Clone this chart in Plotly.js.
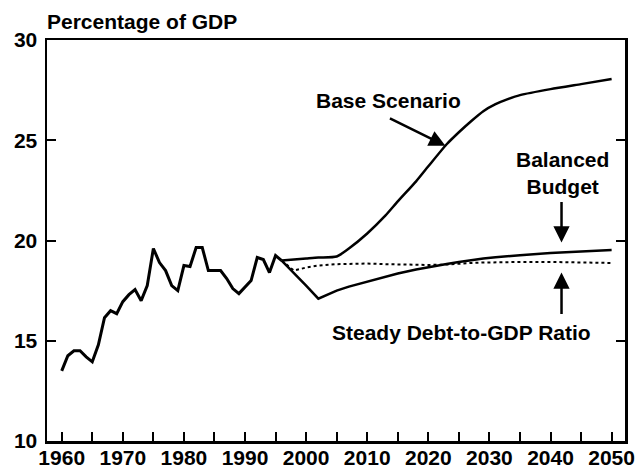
<!DOCTYPE html>
<html>
<head>
<meta charset="utf-8">
<script src="https://cdn.plot.ly/plotly-3.0.1.min.js"></script>
<style>html,body{margin:0;padding:0;background:#fff;}#chart{width:636px;height:468px;}</style>
</head>
<body>
<div id="chart"></div>
<script>
// Historical values, percentage of GDP
const histYears = [1960,1961,1962,1963,1964,1965,1966,1967,1968,1969,1970,1971,1972,1973,1974,1975,1976,1977,1978,1979,1980,1981,1982,1983,1984,1985,1986,1987,1988,1989,1990,1991,1992,1993,1994,1995,1996];
const histValues = [13.5,14.25,14.5,14.5,14.2,13.95,14.8,16.15,16.5,16.35,16.95,17.3,17.55,17.0,17.75,19.6,18.9,18.5,17.75,17.5,18.75,18.7,19.65,19.65,18.5,18.5,18.5,18.1,17.6,17.35,17.7,18.0,19.15,19.05,18.4,19.25,19.0];

// Projections
const projYears = [1996,1998,2000,2002,2005,2007,2010,2013,2015,2018,2020,2023,2025,2027,2029,2031,2033,2035,2040,2045,2050];
const baseScenario = [19.0,19.05,19.1,19.15,19.2,19.6,20.35,21.25,21.95,22.95,23.7,24.8,25.4,25.95,26.45,26.8,27.05,27.25,27.55,27.8,28.05];
const balancedBudget = [19.0,18.4,17.75,17.1,17.5,17.7,17.95,18.2,18.35,18.55,18.67,18.83,18.93,19.02,19.1,19.16,19.22,19.27,19.38,19.46,19.52];
const steadyDebt = [19.0,18.5,18.65,18.75,18.82,18.84,18.85,18.82,18.8,18.78,18.78,18.8,18.85,18.88,18.9,18.92,18.93,18.93,18.93,18.92,18.88];

const tickYears = [1960,1970,1980,1990,2000,2010,2020,2030,2040,2050];
const tickValuesY = [10,15,20,25,30];

const F = 'Arial, "Liberation Sans", Helvetica, sans-serif';

const traces = [
  {x: histYears, y: histValues, mode: 'lines', line: {color: '#000', width: 3}, hoverinfo: 'skip'},
  {x: projYears, y: baseScenario, mode: 'lines', line: {color: '#000', width: 2.5, shape: 'spline', smoothing: 0.6}, hoverinfo: 'skip'},
  {x: projYears, y: balancedBudget, mode: 'lines', line: {color: '#000', width: 2.5}, hoverinfo: 'skip'},
  {x: projYears, y: steadyDebt, mode: 'lines', line: {color: '#000', width: 2, dash: 'dot'}, hoverinfo: 'skip'}
];

const txt = (s, x, y, extra) => Object.assign({
  text: s, x: x, y: y, xref: 'x', yref: 'y', showarrow: false,
  font: {family: F, size: 21, color: '#000', weight: 'bold'}
}, extra || {});
const arrow = (x, y, ax, ay) => ({
  text: '', x: x, y: y, xref: 'x', yref: 'y', ax: ax, ay: ay,
  showarrow: true, arrowhead: 2, arrowsize: 1.3, arrowwidth: 2.5, arrowcolor: '#000'
});

const layout = {
  width: 636, height: 468,
  margin: {l: 47, r: 11, t: 40, b: 27},
  paper_bgcolor: '#fff', plot_bgcolor: '#fff',
  showlegend: false,
  title: {
    text: 'Percentage of GDP', xref: 'container', yref: 'container',
    x: 47 / 636, xanchor: 'left', y: 1 - 22 / 468, yanchor: 'middle',
    font: {family: F, size: 21, color: '#000', weight: 'bold'}
  },
  xaxis: {
    range: [1957.59, 2052.19], tickvals: tickYears, ticktext: tickYears.map(String),
    ticks: 'inside', ticklen: 9, tickwidth: 2, tickcolor: '#000',
    minor: {dtick: 5, tick0: 1960, ticks: 'inside', ticklen: 9, tickwidth: 2, tickcolor: '#000'},
    showline: true, linewidth: 2.5, linecolor: '#000', mirror: true,
    showgrid: false, zeroline: false,
    tickfont: {family: F, size: 21, color: '#000', weight: 'bold'},
    ticklabelstandoff: -4
  },
  yaxis: {
    range: [10, 30], tickvals: tickValuesY, ticktext: tickValuesY.map(String),
    ticks: 'inside', ticklen: 9, tickwidth: 2, tickcolor: '#000',
    showline: true, linewidth: 2.5, linecolor: '#000', mirror: 'ticks',
    showgrid: false, zeroline: false,
    tickfont: {family: F, size: 21, color: '#000', weight: 'bold'},
    ticklabelstandoff: 3
  },
  annotations: [
    txt('Base Scenario', 2013.5, 26.97),
    arrow(2022.8, 24.73, -57, -28),
    txt('Balanced<br>Budget', 2041.9, 23.35),
    arrow(2041.8, 19.9, 0, -42),
    arrow(2041.8, 18.41, 0, 43),
    txt('Steady Debt-to-GDP Ratio', 2025.5, 15.4)
  ]
};

Plotly.newPlot('chart', traces, layout, {staticPlot: true, displayModeBar: false});
</script>
</body>
</html>
